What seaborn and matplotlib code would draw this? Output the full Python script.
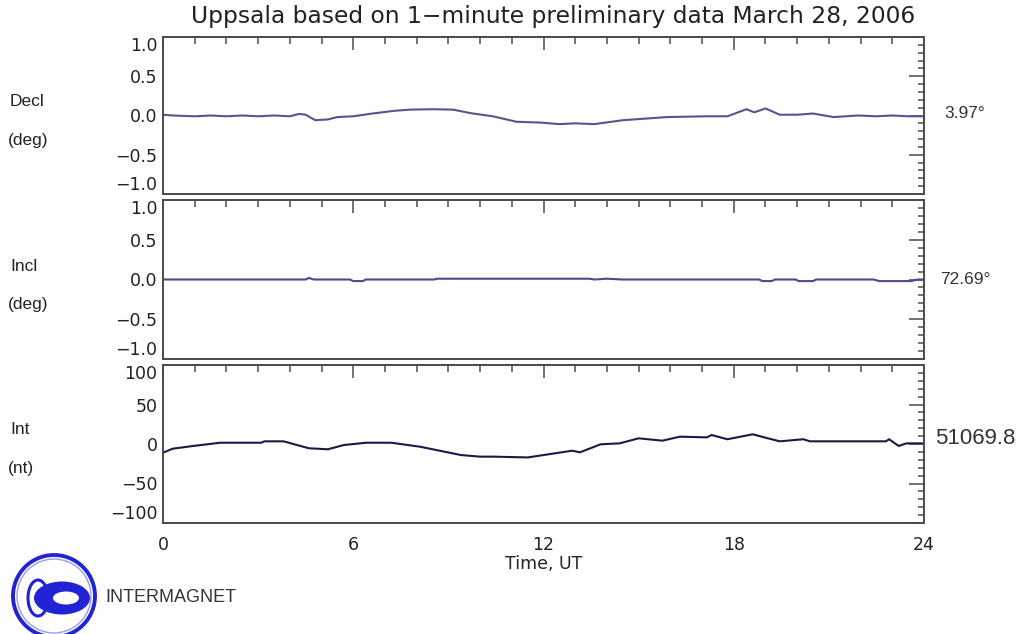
import matplotlib
matplotlib.use("Agg")
import matplotlib.pyplot as plt
from matplotlib.ticker import MultipleLocator, FuncFormatter
from matplotlib.patches import Circle, Ellipse
import numpy as np
import pandas as pd
import seaborn as sns

# ---------------- data ----------------
title = "Uppsala based on 1\u2212minute preliminary data March 28, 2006"

decl_hours = [0.0, 0.3, 1.0, 1.5, 2.0, 2.5, 3.0, 3.5, 4.0, 4.3, 4.5, 4.8, 5.2, 5.5,
              6.0, 6.6, 7.3, 7.8, 8.5, 9.15, 9.7, 10.4, 11.15, 11.9, 12.5, 13.0,
              13.6, 14.5, 15.2, 15.9, 17.15, 17.8, 18.4, 18.65, 19.0, 19.45, 20.0,
              20.5, 21.15, 21.9, 22.5, 23.0, 23.5, 24.0]
decl_values = [0.01, 0.0, -0.01, 0.0, -0.01, 0.0, -0.01, 0.0, -0.01, 0.02, 0.01, -0.06,
               -0.05, -0.02, -0.01, 0.025, 0.06, 0.075, 0.08, 0.075, 0.03, -0.01, -0.08,
               -0.09, -0.11, -0.10, -0.11, -0.06, -0.04, -0.02, -0.01, -0.01, 0.08, 0.04,
               0.09, 0.01, 0.01, 0.025, -0.02, 0.0, -0.01, 0.0, -0.01, -0.01]

incl_hours = [0.0, 4.5, 4.6, 4.75, 5.9, 6.0, 6.3, 6.4, 8.55, 8.65, 13.45, 13.6, 14.0,
              14.5, 18.8, 18.9, 19.2, 19.3, 19.95, 20.05, 20.5, 20.6, 22.4, 22.6,
              23.6, 23.8, 24.0]
incl_values = [0.0, 0.0, 0.02, 0.0, 0.0, -0.02, -0.02, 0.0, 0.0, 0.01, 0.01, 0.0, 0.01,
               0.0, 0.0, -0.02, -0.02, 0.0, 0.0, -0.02, -0.02, 0.0, 0.0, -0.02,
               -0.02, 0.0, 0.0]

int_hours = [0.0, 0.3, 0.95, 1.8, 3.1, 3.2, 3.8, 4.6, 5.2, 5.7, 6.4, 7.2, 8.1, 9.4,
             10.0, 10.4, 11.5, 12.0, 12.9, 13.15, 13.8, 14.4, 15.0, 15.75, 16.3,
             17.15, 17.3, 17.8, 18.6, 19.0, 19.45, 20.2, 20.4, 22.8, 22.9, 23.2,
             23.45, 24.0]
int_values = [-11, -6, -2.5, 1.6, 1.6, 3.4, 3.4, -5.4, -6.7, -1.3, 1.6, 1.6, -3.4, -14,
              -16, -16, -17, -14, -8.5, -10.5, -0.4, 0.8, 7.2, 4.2, 9.3,
              8.4, 11.4, 6, 12.3, 8, 3.4, 6, 3.4, 3.4, 6, -2.5,
              0.8, 0.8]

left_labels = [("Decl", "(deg)"), ("Incl", "(deg)"), ("Int", "(nt)")]
right_labels = ["3.97\u00b0", "72.69\u00b0", "51069.8"]
x_ticks = [0, 6, 12, 18, 24]
x_label = "Time, UT"
logo_text = "INTERMAGNET"

# ---------------- figure ----------------
sns.set_theme(style="white")
plt.rcParams["font.family"] = ["DejaVu Sans"]

W, H = 1024, 634
fig = plt.figure(figsize=(W / 100, H / 100), dpi=100)
fig.patch.set_facecolor("white")

def px_axes(x0, y0, x1, y1):
    return fig.add_axes([x0 / W, 1 - y1 / H, (x1 - x0) / W, (y1 - y0) / H])

def make_fmt(fmt):
    def f(v, pos):
        s = fmt % v
        if s.startswith("-") and float(s) == 0:
            s = s[1:]
        return s.replace("-", "\u2212")
    return FuncFormatter(f)

panels = [
    (37, 194, decl_hours, decl_values, (-1, 1), 0.5, 0.1, "%.1f", "#55558f"),
    (200, 359, incl_hours, incl_values, (-1, 1), 0.5, 0.1, "%.1f", "#4a4a90"),
    (365, 523, int_hours, int_values, (-100, 100), 50, 10, "%d", "#1a1a4a"),
]

spine_col = "#4a4a4a"
axes = []
for i, (y0, y1, hrs, vals, ylim, maj, mnr, fmt, col) in enumerate(panels):
    ax = px_axes(163, y0, 924, y1)
    df = pd.DataFrame({"hour": hrs, "value": vals})
    sns.lineplot(data=df, x="hour", y="value", ax=ax, color=col, linewidth=1.5,
                 estimator=None, sort=False)
    ax.set_xlim(0, 24)
    ax.set_ylim(*ylim)
    ax.set_xticks(x_ticks)
    ax.xaxis.set_minor_locator(MultipleLocator(1))
    ax.set_yticks(np.arange(ylim[0], ylim[1] + maj / 2, maj))
    ax.yaxis.set_minor_locator(MultipleLocator(mnr))
    ax.yaxis.set_major_formatter(make_fmt(fmt))
    ax.set_xlabel("")
    ax.set_ylabel("")
    ax.tick_params(which="both", direction="in", top=True, right=True,
                   color=spine_col, width=1.1, labelsize=12.5, labelcolor="#222222")
    ax.tick_params(axis="x", which="major", length=9, pad=9)
    ax.tick_params(axis="x", which="minor", length=5)
    ax.tick_params(axis="y", which="major", length=11, pad=4)
    ax.tick_params(axis="y", which="minor", length=4.5)
    for s in ax.spines.values():
        s.set_color(spine_col)
        s.set_linewidth(1.4)
        s.set_visible(True)
    if i < 2:
        ax.tick_params(axis="x", labelbottom=False)
    axes.append(ax)

axes[2].set_xlabel(x_label, fontsize=12.5, color="#222222", labelpad=1)

# title
fig.text(553 / W, 1 - 17 / H, title, ha="center", va="center", fontsize=16.8,
         color="#222222")

# left labels and right values
label_y = [(101, 140), (266, 305), (430, 469)]
for (name, unit), (ya, yb) in zip(left_labels, label_y):
    fig.text(10 / W, 1 - ya / H, name, ha="left", va="center", fontsize=12.5,
             family="Liberation Sans", color="#222222")
    fig.text(8 / W, 1 - yb / H, unit, ha="left", va="center", fontsize=12.5,
             family="Liberation Sans", color="#222222")

right_pos = [(944, 114, 12.5), (940, 280, 12.5), (935, 439, 16)]
for txt, (xr, yr, fs) in zip(right_labels, right_pos):
    fig.text(xr / W, 1 - yr / H, txt, ha="left", va="center", fontsize=fs,
             family="Liberation Sans", color="#333333")

# logo
lax = fig.add_axes([0, 0, 1, 1], zorder=-1)
lax.set_xlim(0, W)
lax.set_ylim(H, 0)
lax.axis("off")
blue = "#2323d6"
lax.add_patch(Circle((54, 596), 41, fill=False, ec=blue, lw=2.8))
lax.add_patch(Circle((54, 596), 37, fill=False, ec="#9a9af0", lw=1.0))
lax.add_patch(Ellipse((62, 598), 56, 33, fc=blue, ec="none"))
lax.add_patch(Ellipse((66, 598), 26, 13, fc="white", ec="none"))
lax.add_patch(Ellipse((38, 598), 20, 36, fill=False, ec=blue, lw=2.2))
lax.add_patch(Ellipse((42, 598), 13, 20, fc=blue, ec="none"))
lax.text(105, 597, logo_text, ha="left", va="center", fontsize=13,
         family="Liberation Sans", color="#333333")

# shift end labels inward, as in the reference
fig.canvas.draw()
for ax in axes:
    ticks = ax.yaxis.get_major_ticks()
    ticks[0].label1.set_verticalalignment("bottom")
    ticks[-1].label1.set_verticalalignment("top")

fig.savefig("out.png", dpi=100, facecolor="white")
